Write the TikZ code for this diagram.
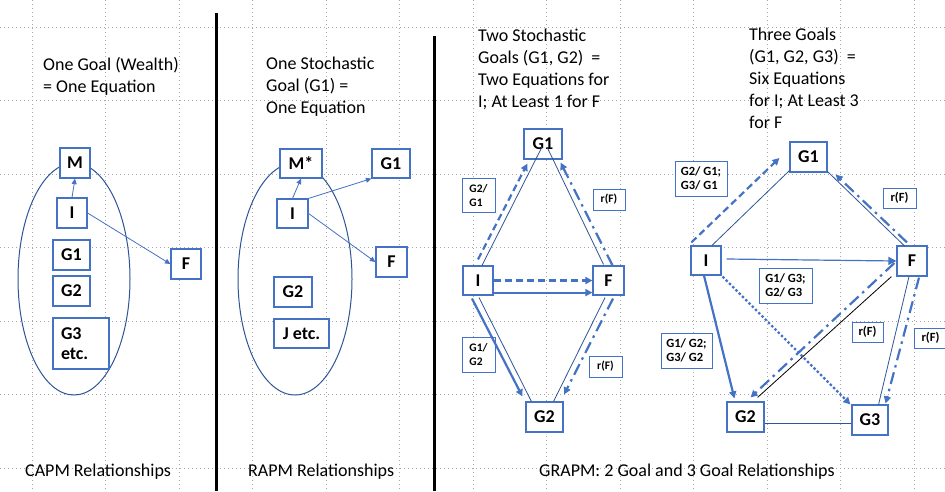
\documentclass[tikz,border=0pt]{standalone}
\usepackage{fontspec}
\setmainfont{Carlito}
\usetikzlibrary{arrows.meta,calc}
\definecolor{boxblue}{HTML}{4472C4}
\definecolor{darkblue}{HTML}{2F5597}
\definecolor{gridgray}{HTML}{A6A6A6}
\begin{document}
\begin{tikzpicture}[x=1pt,y=-1pt,
  box/.style={draw=boxblue, line width=1.2pt, fill=white, inner sep=0pt, align=left,
    font=\bfseries\fontsize{18}{20}\selectfont},
  lab/.style={draw=boxblue, line width=1pt, fill=white, inner sep=0pt, align=left,
    font=\bfseries\fontsize{12.5}{14}\selectfont},
  labs/.style={lab, font=\bfseries\fontsize{11.5}{14}\selectfont},
  ttl/.style={anchor=base west, inner sep=0pt, font=\fontsize{18}{22}\selectfont},
  gridline/.style={draw=gridgray, line width=0.6pt, dash pattern=on 0.8pt off 3.2pt},
  thinarrow/.style={draw=boxblue, line width=0.8pt, -{Triangle[length=5.5pt,width=5pt]}},
  link/.style={draw=darkblue, line width=0.8pt},
  tarrow/.style={draw=boxblue, line width=2.2pt, -{Triangle[length=7pt,width=7pt]}},
  dashline/.style={tarrow, dash pattern=on 7pt off 4pt},
  dashdotline/.style={tarrow, dash pattern=on 12pt off 5pt on 2.5pt off 5pt},
  dotline/.style={tarrow, line width=2.4pt, dash pattern=on 2.4pt off 2.2pt},
  divider/.style={draw=black, line width=3pt}
]
\useasboundingbox (0,0) rectangle (945,491);
\fill[white] (0,0) rectangle (945,491);

% grid
\foreach \gx in {32,105.5,...,915} \draw[gridline] (\gx,0) -- (\gx,491);
\foreach \gy in {27,100.5,...,470} \draw[gridline] (0,\gy) -- (945,\gy);

% dividers
\draw[divider] (216,13) -- (216,491);
\draw[divider] (434,36) -- (434,491);

% titles
\node[ttl] (t1a) at (43,70) {One Goal (Wealth)};
\node[ttl] (t1b) at (43,92) {= One Equation};
\node[ttl] (t2a) at (266,69.5) {One Stochastic};
\node[ttl] (t2b) at (266,91.5) {Goal (G1) =};
\node[ttl] (t2c) at (266,113.5) {One Equation};
\node[ttl] (t3a) at (478,41.5) {Two Stochastic};
\node[ttl] (t3b) at (478,63.3) {Goals (G1, G2)\ \ =};
\node[ttl] (t3c) at (478,85) {Two Equations for};
\node[ttl] (t3d) at (478,107) {I; At Least 1 for F};
\node[ttl] (t4a) at (749,40.5) {Three Goals};
\node[ttl] (t4b) at (749,62.5) {(G1, G2, G3)\ \ =};
\node[ttl] (t4c) at (749,84.5) {Six Equations};
\node[ttl] (t4d) at (749,106.5) {for I; At Least 3};
\node[ttl] (t4e) at (749,128.5) {for F};

% bottom captions
\node[ttl] (c1) at (25,476) {CAPM Relationships};
\node[ttl] (c2) at (248,476) {RAPM Relationships};
\node[ttl] (c3) at (539,476) {GRAPM: 2 Goal and 3 Goal Relationships};

% ---------- Panel 1: CAPM ----------
\draw[darkblue, line width=1pt] (74,279) ellipse [x radius=56pt, y radius=116pt];
\node[box, minimum width=30pt, minimum height=30pt] (M1) at (75,163) {M};
\node[box, minimum width=30pt, minimum height=30pt] (I1) at (72,213) {I};
\node[box, minimum width=37pt, minimum height=30pt] (G11) at (71.5,255) {G1};
\node[box, minimum width=37pt, minimum height=30pt] (G21) at (71.5,291) {G2};
\node[box, minimum width=56pt, minimum height=51pt, text width=40pt] (G31) at (81,343.5) {G3\\etc.};
\node[box, minimum width=30pt, minimum height=30pt] (F1) at (186,264) {F};
\draw[thinarrow] (I1.north) -- (M1.south);
\draw[thinarrow] (I1.east) -- (F1.west);

% ---------- Panel 2: RAPM ----------
\draw[darkblue, line width=1pt] (295,279) ellipse [x radius=57pt, y radius=116pt];
\node[box, minimum width=42pt, minimum height=29pt] (Ms) at (301,163.5) {M*};
\node[box, minimum width=38pt, minimum height=29pt] (G12) at (391,163.5) {G1};
\node[box, minimum width=31pt, minimum height=29pt] (I2) at (292.5,213.5) {I};
\node[box, minimum width=31pt, minimum height=30pt] (F2) at (391.5,262) {F};
\node[box, minimum width=38pt, minimum height=30pt] (G22) at (293,292) {G2};
\node[box, minimum width=55pt, minimum height=29pt] (J2) at (301.5,333.5) {J etc.};
\draw[thinarrow] (I2.north) -- (Ms.south);
\draw[thinarrow] (I2.north east) -- (G12.south west);
\draw[thinarrow] (I2.east) -- (F2.west);

% ---------- Panel 3: two goals ----------
\node[box, minimum width=38pt, minimum height=30pt] (G13) at (543,144) {G1};
\node[box, minimum width=30pt, minimum height=29pt] (I3) at (478,280.5) {I};
\node[box, minimum width=31pt, minimum height=29pt] (F3) at (608.5,280.5) {F};
\node[box, minimum width=37pt, minimum height=30pt] (G23) at (544.5,417) {G2};
\node[labs, minimum width=33pt, minimum height=34pt] (L3a) at (478.5,195) {G2/\\G1};
\node[labs, minimum width=32pt, minimum height=21pt] (R3a) at (609,199.5) {r(F)};
\node[labs, minimum width=33pt, minimum height=35pt] (L3b) at (478.5,354.5) {G1/\\G2};
\node[labs, minimum width=33pt, minimum height=21pt] (R3b) at (605.5,366.5) {r(F)};

\draw[link] ($(I3.north)+(4,0)$) -- ($(G13.center)+(-1,3)$);
\draw[link] ($(F3.north)+(-5,-1)$) -- ($(G13.center)+(4,3)$);
\draw[link] ($(I3.south)+(1,2)$) -- ($(G23.north west)+(6,0)$);
\draw[link] ($(F3.south)+(-3.5,2)$) -- ($(G23.north east)+(-10,0)$);
\draw[dashline] ($(I3.north)+(0,-6)$) -- ($(G13.south west)+(4,4)$);
\draw[dashdotline] ($(F3.north)+(4,0)$) -- ($(G13.south east)+(-2,3)$);
\draw[dashline] (I3.east) -- (F3.west);
\draw[tarrow] ($(I3.south east)+(0,-3)$) -- ($(F3.south west)+(0,-3)$);
\draw[tarrow] ($(I3.south)+(-6,3)$) -- ($(G23.north west)+(-3,-5)$);
\draw[dashdotline] ($(F3.south)+(4.5,3)$) -- ($(G23.north east)+(0.5,-7)$);

% ---------- Panel 4: three goals ----------
\node[box, minimum width=37pt, minimum height=30pt] (G14) at (808.5,157) {G1};
\node[box, minimum width=30pt, minimum height=29pt] (I4) at (706,260.5) {I};
\node[box, minimum width=30pt, minimum height=30pt] (F4) at (912,261) {F};
\node[box, minimum width=37pt, minimum height=30pt] (G24) at (745.5,417) {G2};
\node[box, minimum width=36pt, minimum height=30pt] (G34) at (870,420) {G3};
\node[lab, minimum width=52pt, minimum height=35pt] (L4a) at (701,178.5) {G2/ G1;\\G3/ G1};
\node[lab, minimum width=33pt, minimum height=20pt] (R4a) at (899.5,198) {r(F)};
\node[lab, minimum width=53pt, minimum height=35pt] (L4b) at (785.5,285.5) {G1/ G3;\\G2/ G3};
\node[lab, minimum width=31pt, minimum height=20pt] (R4b) at (867.5,332) {r(F)};
\node[lab, minimum width=33pt, minimum height=20pt] (R4c) at (930.5,338) {r(F)};
\node[lab, minimum width=51pt, minimum height=35pt] (L4c) at (686.5,350.5) {G1/ G2;\\G3/ G2};

\draw[link] ($(I4.north)+(6,0)$) -- ($(G14.south west)+(0,-2)$);
\draw[link] ($(F4.north)+(-7,1)$) -- ($(G14.south east)+(0,-1)$);
\draw[draw=black, line width=0.8pt] ($(F4.south west)+(-5,0)$) -- ($(G24.north east)+(-7,-4)$);
\draw[link] ($(F4.south)+(-3,0)$) -- ($(G34.north east)+(-10,0)$);
\draw[link] ($(G24.east)+(0,6)$) -- ($(G34.west)+(0,3)$);
\draw[dashline] ($(I4.north west)+(1,-3)$) -- ($(G14.west)+(-10,1)$);
\draw[dashdotline] ($(F4.north)+(-5,-3)$) -- ($(G14.south east)+(8,2)$);
\draw[draw=boxblue, line width=1.2pt, -{Triangle[length=8pt,width=8pt]}] ($(I4.east)+(5,-1.5)$) -- (F4.west);
\draw[tarrow] ($(I4.south)+(-2,0)$) -- ($(G24.north west)+(8,-3)$);
\draw[dotline] ($(I4.south east)+(1,1)$) -- ($(G34.north west)+(-1,0)$);
\draw[dashdotline] ($(F4.west)+(-2,2)$) -- ($(G24.north east)+(-14,-4)$);
\draw[dashdotline] ($(F4.south)+(7,1)$) -- ($(G34.north east)+(-3,-1)$);
\end{tikzpicture}
\end{document}
